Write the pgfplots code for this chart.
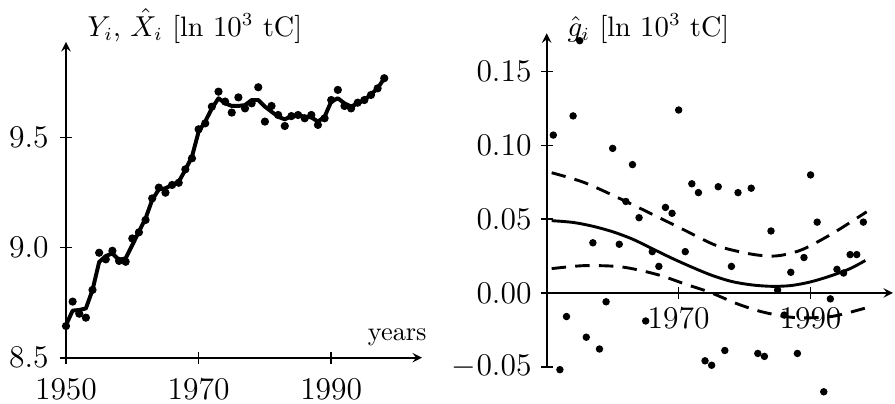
\documentclass[border=0pt]{standalone}
\usepackage{pgfplots}
\pgfplotsset{compat=1.18}
\usetikzlibrary{arrows.meta}

\pgfplotsset{
  pnl/.style={
    scale only axis, anchor=south west, clip=false,
    tick align=outside, major tick length=4.5pt,
    axis line style={line width=0.6pt, -{Latex[length=4pt,width=3pt]}},
    every tick/.style={line width=0.6pt, black},
    tick label style={font=\fontsize{11.5}{13}\selectfont},
    x tick label style={/pgf/number format/1000 sep={}},
  },
  dot/.style={only marks, mark=*, mark size=1.35pt, black},
}

\begin{document}
\begin{tikzpicture}
\useasboundingbox (0,0) rectangle (340.1pt,-153.14pt);

% left: data and filtered level
\begin{axis}[pnl, at={(25.08pt,-135.93pt)}, width=135.3pt, height=120pt,
  axis lines=left, xmin=1950, xmax=2003.7, ymin=8.5, ymax=9.935,
  xtick={1950,1970,1990}, ytick={8.5,9.0,9.5},
  xticklabel shift=2.3pt, yticklabel shift=0.8pt,
  yticklabel style={/pgf/number format/.cd, fixed, fixed zerofill, precision=1},
]
\addplot[black, line width=1.5pt, line join=round] coordinates {
(1950,8.648) (1951,8.714) (1952,8.717) (1953,8.724) (1954,8.808) (1955,8.935)
(1956,8.962) (1957,8.974) (1958,8.944) (1959,8.952) (1960,9.012) (1961,9.073)
(1962,9.133) (1963,9.217) (1964,9.265) (1965,9.270) (1966,9.285) (1967,9.300)
(1968,9.353) (1969,9.414) (1970,9.527) (1971,9.573) (1972,9.633) (1973,9.679)
(1974,9.656) (1975,9.644) (1976,9.644) (1977,9.648) (1978,9.671) (1979,9.671)
(1980,9.641) (1981,9.618) (1982,9.595) (1983,9.583) (1984,9.598) (1985,9.603)
(1986,9.595) (1987,9.592) (1988,9.573) (1989,9.595) (1990,9.664) (1991,9.679)
(1992,9.656) (1993,9.641) (1994,9.656) (1995,9.671) (1996,9.697) (1997,9.724)
(1998,9.770)};
\addplot[dot] coordinates {
(1950,8.644) (1951,8.755) (1952,8.700) (1953,8.682) (1954,8.808) (1955,8.977)
(1956,8.947) (1957,8.986) (1958,8.940) (1959,8.936) (1960,9.042) (1961,9.070)
(1962,9.126) (1963,9.224) (1964,9.273) (1965,9.250) (1966,9.285) (1967,9.295)
(1968,9.356) (1969,9.406) (1970,9.538) (1971,9.565) (1972,9.641) (1973,9.709)
(1974,9.664) (1975,9.614) (1976,9.683) (1977,9.633) (1978,9.656) (1979,9.729)
(1980,9.573) (1981,9.644) (1982,9.603) (1983,9.553) (1984,9.598) (1985,9.603)
(1986,9.588) (1987,9.603) (1988,9.558) (1989,9.588) (1990,9.671) (1991,9.717)
(1992,9.644) (1993,9.633) (1994,9.659) (1995,9.671) (1996,9.694) (1997,9.724)
(1998,9.770)};
\end{axis}

% right: growth rates with trend and band
\begin{axis}[pnl, at={(207.75pt,-139.35pt)}, width=131.6pt, height=126.7pt,
  axis x line=middle, axis y line=left,
  xmin=1950, xmax=2002.5, ymin=-0.05, ymax=0.176,
  xtick={1970,1990}, ytick={-0.05,0,0.05,0.10,0.15},
  yticklabel style={/pgf/number format/.cd, fixed, fixed zerofill, precision=2},
]
\addplot[black, line width=1.1pt, smooth] coordinates {
(1950.75,0.0490) (1954,0.0478) (1957,0.0452) (1960,0.0415) (1963,0.0365)
(1966,0.0300) (1969,0.0235) (1972,0.0175) (1975,0.0120) (1978,0.0078)
(1981,0.0055) (1984,0.0045) (1987,0.0050) (1990,0.0075) (1993,0.0115)
(1996,0.0165) (1998.3,0.0220)};
\addplot[black, line width=1.1pt, smooth, dash pattern=on 5.5pt off 3.5pt] coordinates {
(1950.75,0.0815) (1955.6,0.0750) (1960.6,0.0650) (1965.7,0.0540) (1970.7,0.0430)
(1975.8,0.0320) (1980.8,0.0265) (1983.8,0.0250) (1985.9,0.0258) (1988.9,0.0297)
(1993.4,0.0405) (1998.5,0.0550)};
\addplot[black, line width=1.1pt, smooth, dash pattern=on 5.5pt off 3.5pt] coordinates {
(1950.75,0.0165) (1955.6,0.0185) (1960.6,0.0180) (1964,0.0155) (1967.5,0.0115)
(1971,0.0060) (1974.7,0.0005) (1978.8,-0.0072) (1982.3,-0.0124) (1985.9,-0.0158)
(1988.9,-0.0169) (1993.4,-0.0158) (1998.5,-0.0100)};
\addplot[dot, mark size=1.2pt] coordinates {
(1951,0.107) (1952,-0.052) (1953,-0.016) (1954,0.120) (1955,0.171) (1956,-0.030)
(1957,0.034) (1958,-0.038) (1959,-0.006) (1960,0.098) (1961,0.033) (1962,0.062)
(1963,0.087) (1964,0.051) (1965,-0.019) (1966,0.028) (1967,0.018) (1968,0.058)
(1969,0.054) (1970,0.124) (1971,0.028) (1972,0.074) (1973,0.068) (1974,-0.046)
(1975,-0.049) (1976,0.072) (1977,-0.039) (1978,0.018) (1979,0.068) (1981,0.071)
(1982,-0.041) (1983,-0.043) (1984,0.042) (1985,0.002) (1986,-0.015) (1987,0.014)
(1988,-0.041) (1989,0.024) (1990,0.080) (1991,0.048) (1992,-0.067) (1993,-0.004)
(1994,0.016) (1995,0.0135) (1996,0.026) (1997,0.026) (1998,0.048)};
\end{axis}

\node[anchor=base west, inner sep=0pt, font=\fontsize{10.7}{13}\selectfont] at (33.1pt,-13.7pt) {$Y_i$, $\hat X_i$ [ln $10^3$ tC]};
\node[anchor=base west, inner sep=0pt, font=\fontsize{10.7}{13}\selectfont] at (215.5pt,-13.7pt) {$\hat g_i$ [ln $10^3$ tC]};
\node[anchor=base east, inner sep=0pt] at (162.3pt,-129.2pt) {years};
\end{tikzpicture}
\end{document}
